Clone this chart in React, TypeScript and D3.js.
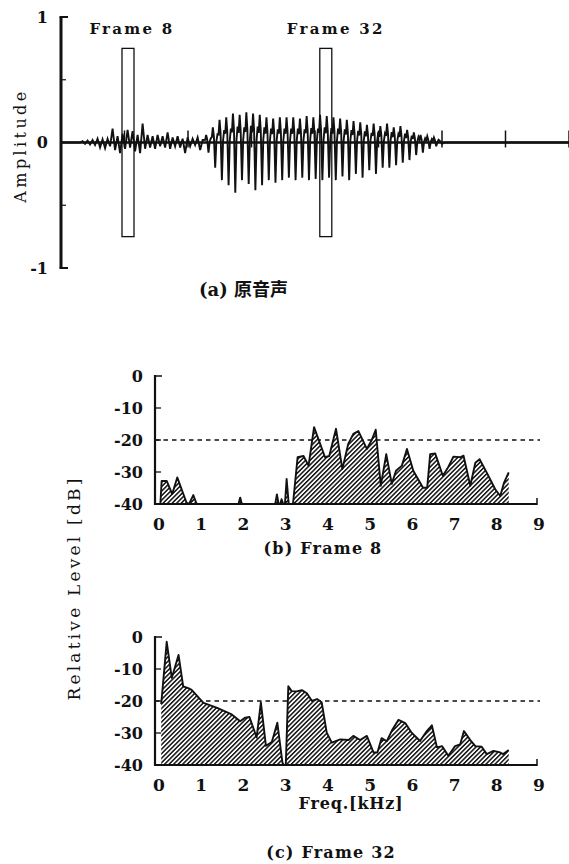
import React from 'react';
import * as d3 from 'd3';

// ---------- data ----------
const timeTicks = [1, 2, 3, 4, 5, 6, 7, 8];
const ampTickValues = [-1, -0.5, 0, 0.5, 1];
const ampLabelValues = [1, 0, -1];
const frameNames = ['Frame 8', 'Frame 32'];
const frameTimes = [1.055, 4.17];

const noiseStart = 0.3;
const noiseStep = 0.0394;
const noiseSamples = [0, 0.01, -0.01, 0.015, -0.015, 0.02, -0.02, 0.03, -0.04, 0.025, -0.045, 0.03, -0.03, 0.11, -0.06, 0.05, -0.085, 0.07, -0.05, 0.1, -0.04, 0.09, -0.07, 0.06, -0.085, 0.15, -0.05, 0.06, -0.04, 0.05, -0.05, 0.06, -0.03, 0.05, -0.04, 0.08, -0.05, 0.04, -0.03, 0.05, -0.04, 0.03, -0.085, 0.04, -0.03, 0.03, -0.02, 0.04, -0.06, 0.02];

const pulseStart = 2.27;
const pulsePeriod = 0.1055;
const pulseTop = [0.06, 0.12, 0.18, 0.2, 0.23, 0.22, 0.24, 0.23, 0.22, 0.2, 0.19, 0.2, 0.2, 0.2, 0.19, 0.21, 0.2, 0.22, 0.21, 0.2, 0.19, 0.18, 0.17, 0.16, 0.14, 0.15, 0.13, 0.15, 0.12, 0.13, 0.1, 0.08, 0.06, 0.05, 0.04];
const pulseBottom = [-0.08, -0.2, -0.3, -0.34, -0.4, -0.3, -0.33, -0.38, -0.34, -0.3, -0.32, -0.3, -0.28, -0.3, -0.28, -0.3, -0.29, -0.3, -0.28, -0.3, -0.27, -0.3, -0.25, -0.28, -0.22, -0.25, -0.2, -0.2, -0.18, -0.16, -0.14, -0.1, -0.08, -0.05, -0.03];
const tailSamples = [0.015, -0.01, 0];

const freqTicks = [0, 1, 2, 3, 4, 5, 6, 7, 8, 9];
const levelTicks = [0, -10, -20, -30, -40];
const thresholdLevel = -20;

const frame8Freq = [0.08, 0.11, 0.23, 0.36, 0.48, 0.70, 0.76, 0.86, 0.94, 1.93, 1.97, 2.01, 2.8, 2.84, 2.88, 2.92, 2.95, 2.99, 3.03, 3.07, 3.12, 3.22, 3.33, 3.47, 3.59, 3.72, 3.98, 4.08, 4.24, 4.39, 4.53, 4.65, 4.77, 4.97, 5.09, 5.18, 5.30, 5.43, 5.56, 5.66, 5.80, 5.92, 6.07, 6.30, 6.40, 6.47, 6.59, 6.77, 6.90, 7.02, 7.18, 7.26, 7.42, 7.54, 7.64, 7.81, 8.01, 8.13, 8.22, 8.33];
const frame8Level = [-40, -32.8, -32.8, -36.9, -31.7, -39.6, -40, -37.2, -40, -40, -38, -40, -40, -37, -40, -40, -38.5, -40, -40, -32.2, -40, -40, -25.4, -25, -28, -16, -25.4, -25, -16.5, -29.1, -21.2, -18.1, -17.2, -22.8, -19.9, -16.8, -34.3, -24.4, -33.7, -29.6, -28, -22.8, -29.6, -34.9, -34.9, -24.4, -24.2, -31.2, -28.4, -25.2, -25.4, -24.9, -34.3, -27.1, -26, -30.2, -35.4, -37.5, -33.3, -30.1];

const frame32Freq = [0.1, 0.23, 0.35, 0.51, 0.62, 0.74, 0.82, 1.10, 1.41, 1.77, 1.97, 2.09, 2.19, 2.36, 2.46, 2.58, 2.72, 2.85, 2.97, 3.0, 3.05, 3.11, 3.19, 3.31, 3.43, 3.55, 3.67, 3.79, 3.90, 4.02, 4.14, 4.34, 4.54, 4.65, 4.81, 4.97, 5.13, 5.22, 5.32, 5.44, 5.58, 5.72, 5.88, 6.03, 6.23, 6.39, 6.51, 6.63, 6.75, 6.90, 7.06, 7.18, 7.27, 7.42, 7.54, 7.69, 7.81, 7.97, 8.13, 8.20, 8.33];
const frame32Level = [-21, -1.5, -12.8, -5.6, -15.4, -16, -16.5, -20.6, -22.1, -24.2, -26.3, -25.2, -25, -31.4, -20.4, -34, -32.8, -26.8, -39.2, -40, -40, -15.4, -16.9, -17, -16.6, -17.6, -20, -19.4, -20.4, -29.9, -33, -32, -32.2, -30.9, -32.2, -30.9, -36.1, -36.1, -31.6, -32.6, -28.8, -25.9, -26.9, -29.9, -32.5, -29.4, -27.6, -34.5, -34.1, -37.1, -34.1, -33.6, -29.4, -32.2, -34.1, -34.3, -36.6, -35.6, -36.1, -36.6, -35.3];

// ---------- styling ----------
const SERIF = "'DejaVu Serif', 'Liberation Serif', serif";
const CJK = "'Noto Sans CJK JP', sans-serif";
const INK = '#111';

// ---------- waveform panel ----------
function Waveform() {
  const t = d3.scaleLinear().domain([0, 8]).range([61, 569]);
  const a = d3.scaleLinear().domain([-1, 1]).range([268, 17]);

  const pts: [number, number][] = [[0, 0]];
  noiseSamples.forEach((v, i) => pts.push([noiseStart + i * noiseStep, v]));
  pulseTop.forEach((top, k) => {
    const t0 = pulseStart + k * pulsePeriod;
    const bot = pulseBottom[k];
    const p = pulsePeriod;
    pts.push([t0, top * 0.35]);
    pts.push([t0 + 0.15 * p, top]);
    pts.push([t0 + 0.3 * p, top * 0.45]);
    pts.push([t0 + 0.5 * p, bot]);
    pts.push([t0 + 0.68 * p, top * 0.1]);
    pts.push([t0 + 0.84 * p, top * 0.55]);
  });
  const tailStart = pulseStart + pulseTop.length * pulsePeriod;
  tailSamples.forEach((v, i) => pts.push([tailStart + i * noiseStep, v]));
  pts.push([8, 0]);

  const line = d3.line<[number, number]>().x(d => t(d[0])).y(d => a(d[1]));
  const y0 = a(0);

  return (
    <g>
      <line x1={t(0)} x2={t(0)} y1={a(1)} y2={a(-1)} stroke={INK} strokeWidth={3} />
      <line x1={t(0) - 1.5} x2={t(0) + 7} y1={a(1)} y2={a(1)} stroke={INK} strokeWidth={2} />
      <line x1={t(0) - 1.5} x2={t(0) + 7} y1={a(-1)} y2={a(-1)} stroke={INK} strokeWidth={2} />
      {ampTickValues.filter(v => Math.abs(v) === 0.5).map(v => (
        <line key={v} x1={t(0)} x2={t(0) + 5} y1={a(v)} y2={a(v)} stroke={INK} strokeWidth={1.2} />
      ))}
      {ampLabelValues.map(v => (
        <text key={v} x={48} y={a(v)} dy="0.36em" textAnchor="end" fontFamily={SERIF} fontWeight="bold" fontSize={16} fill={INK}>
          {String(v)}
        </text>
      ))}
      <text transform={`translate(26,${a(0) + 3}) rotate(-90)`} textAnchor="middle" fontFamily={SERIF} fontSize={16} letterSpacing={3.4} fill={INK}>
        Amplitude
      </text>
      <line x1={t(0)} x2={t(8)} y1={y0} y2={y0} stroke={INK} strokeWidth={2.6} />
      {timeTicks.map(v => (
        <line key={v} x1={t(v)} x2={t(v)} y1={y0 - 12} y2={y0 + 5} stroke={INK} strokeWidth={1.5} />
      ))}
      <path d={line(pts) || ''} fill="none" stroke={INK} strokeWidth={1.9} strokeLinejoin="miter" />
      {frameTimes.map((ft, i) => (
        <g key={frameNames[i]}>
          <rect x={t(ft) - 6} y={a(0.75)} width={12} height={a(-0.75) - a(0.75)} fill="none" stroke={INK} strokeWidth={1.3} />
          <text x={t(ft) + 4 + i * 6} y={34} textAnchor="middle" fontFamily={SERIF} fontWeight="bold" fontSize={15} letterSpacing={2.3} fill={INK}>
            {frameNames[i]}
          </text>
        </g>
      ))}
      <text x={199} y={296} fontSize={18} fill={INK}>
        <tspan fontFamily={SERIF} fontWeight="bold">(a) </tspan>
        <tspan fontFamily={CJK} fontWeight="bold">原音声</tspan>
      </text>
    </g>
  );
}

// ---------- spectrum panel ----------
function Spectrum({ top, freq, level, id }: { top: number; freq: number[]; level: number[]; id: string }) {
  const x = d3.scaleLinear().domain([0, 9]).range([157, 537]);
  const y = d3.scaleLinear().domain([0, -40]).range([top, top + 128]);
  const data = freq.map((f, i) => [f, level[i]] as [number, number]);
  const area = d3.area<[number, number]>().x(d => x(d[0])).y0(y(-40)).y1(d => y(d[1]));
  const line = d3.line<[number, number]>().x(d => x(d[0])).y(d => y(d[1]));
  const axisX = 155;
  return (
    <g>
      <line x1={axisX} x2={540} y1={y(thresholdLevel)} y2={y(thresholdLevel)} stroke={INK} strokeWidth={1.6} strokeDasharray="4.5,4" />
      <path d={area(data) || ''} fill="#fff" />
      <path d={area(data) || ''} fill={`url(#${id})`} />
      <path d={line(data) || ''} fill="none" stroke={INK} strokeWidth={1.9} strokeLinejoin="round" />
      <line x1={axisX} x2={axisX} y1={y(0) - 1} y2={y(-40) + 1} stroke={INK} strokeWidth={2.2} />
      <line x1={axisX} x2={axisX + 7} y1={y(0)} y2={y(0)} stroke={INK} strokeWidth={1.5} />
      <line x1={axisX - 1} x2={x(9)} y1={y(-40)} y2={y(-40)} stroke={INK} strokeWidth={2.2} />
      <line x1={x(9)} x2={x(9)} y1={y(-40) + 1} y2={y(-40) - 6} stroke={INK} strokeWidth={1.5} />
      {levelTicks.filter(v => v !== 0 && v !== -40).map(v => (
        <line key={v} x1={axisX} x2={axisX + 6} y1={y(v)} y2={y(v)} stroke={INK} strokeWidth={1.3} />
      ))}
      {levelTicks.map(v => (
        <text key={v} x={143} y={y(v)} dy="0.36em" textAnchor="end" fontFamily={SERIF} fontWeight="bold" fontSize={16} fill={INK}>
          {String(v)}
        </text>
      ))}
      {freqTicks.map(v => (
        <text key={v} x={x(v) + 2} y={y(-40) + 26} textAnchor="middle" fontFamily={SERIF} fontWeight="bold" fontSize={17} fill={INK}>
          {String(v)}
        </text>
      ))}
    </g>
  );
}

export default function App() {
  return (
    <svg width={569} height={864} style={{ position: 'absolute', left: 0, top: 0, background: '#fff' }}>
      <defs>
        {['hatchB', 'hatchC'].map(id => (
          <pattern key={id} id={id} patternUnits="userSpaceOnUse" width={3.2} height={3.2} patternTransform="rotate(45)">
            <rect x={0} y={0} width={1.5} height={3.2} fill="#111" />
          </pattern>
        ))}
      </defs>
      <rect x={0} y={0} width={569} height={864} fill="#fff" />
      <Waveform />
      <Spectrum top={376} freq={frame8Freq} level={frame8Level} id="hatchB" />
      <Spectrum top={637} freq={frame32Freq} level={frame32Level} id="hatchC" />
      <text transform="translate(80,588) rotate(-90)" textAnchor="middle" fontFamily={SERIF} fontSize={17} letterSpacing={3.2} fill={INK}>
        Relative Level [dB]
      </text>
      <text x={323} y={554} textAnchor="middle" fontFamily={SERIF} fontWeight="bold" fontSize={16} letterSpacing={1.2} fill={INK}>
        (b) Frame 8
      </text>
      <text x={351} y={809} textAnchor="middle" fontFamily={SERIF} fontWeight="bold" fontSize={16} letterSpacing={0.8} fill={INK}>
        Freq.[kHz]
      </text>
      <text x={331} y={858} textAnchor="middle" fontFamily={SERIF} fontWeight="bold" fontSize={16} letterSpacing={1.2} fill={INK}>
        (c) Frame 32
      </text>
    </svg>
  );
}
